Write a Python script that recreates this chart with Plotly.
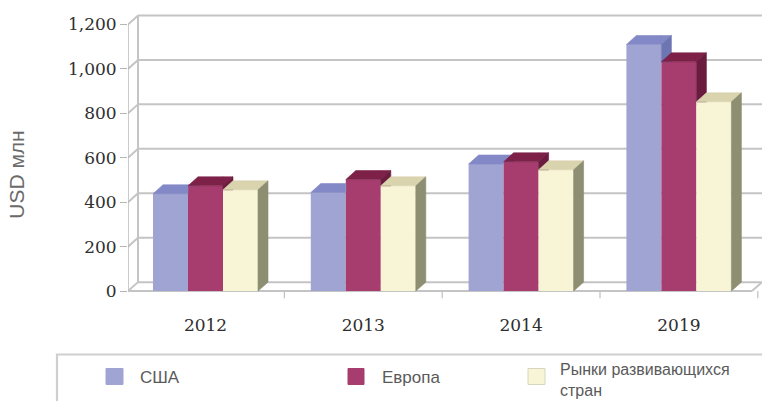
import plotly.graph_objects as go

# ---- data -------------------------------------------------------------
years = ["2012", "2013", "2014", "2019"]
series_names = ["США", "Европа", "Рынки развивающихся стран"]
usa = [438, 444, 572, 1110]
europe = [474, 502, 582, 1032]
emerging = [456, 474, 546, 852]
y_ticks = [0, 200, 400, 600, 800, 1000, 1200]
y_tick_labels = ["{:,}".format(v) for v in y_ticks]

# ---- styling ----------------------------------------------------------
W, H = 762, 401
front_colors = ["#a0a4d2", "#a63d6e", "#f8f5d6"]
top_colors = ["#8389c6", "#7d2149", "#d9d4ae"]
side_colors = ["#6e75b3", "#6a1b3e", "#8d8e72"]
grid_color = "#c4c4c4"

PX_PER_X = 157.8           # pixels per category step
PX_PER_Y = 0.2225          # pixels per value unit
ML, MT = 128, 14           # left / top margin (front axis at the left edge)
GROUP0_PX = 205.5          # pixel centre of the first category
ZERO_PX = 291.5            # pixel row of value 0
Y_LOW = -40

x_lo = -(GROUP0_PX - ML) / PX_PER_X
x_hi = x_lo + (W - ML) / PX_PER_X
bottom_px = ZERO_PX - Y_LOW * PX_PER_Y
MB = H - bottom_px
y_hi = Y_LOW + (bottom_px - MT) / PX_PER_Y

BAR_W = 35 / PX_PER_X      # width of one bar in category units
DX = 10 / PX_PER_X         # depth offset, horizontal
DY = 9 / PX_PER_Y          # depth offset, vertical
x_left = x_lo              # front edge of the side wall


def clip(poly, a, b, c):
    """Keep the part of a convex polygon where a*x + b*y + c >= 0."""
    out = []
    n = len(poly)
    for i in range(n):
        p, q = poly[i], poly[(i + 1) % n]
        fp = a * p[0] + b * p[1] + c
        fq = a * q[0] + b * q[1] + c
        if fp >= 0:
            out.append(p)
        if (fp >= 0) != (fq >= 0):
            t = fp / (fp - fq)
            out.append((p[0] + t * (q[0] - p[0]), p[1] + t * (q[1] - p[1])))
    return out if len(out) >= 3 else []


def add_poly(xs, ys, poly):
    if not poly:
        return
    for px, py in poly:
        xs.append(px)
        ys.append(py)
    xs.append(poly[0][0]); ys.append(poly[0][1])
    xs.append(None); ys.append(None)


fig = go.Figure()

all_values = [usa, europe, emerging]
xs_cat = list(range(len(years)))

# front faces of the columns
for j, (name, vals) in enumerate(zip(series_names, all_values)):
    fig.add_trace(go.Bar(
        x=xs_cat, y=vals, name=name, width=BAR_W,
        offset=-1.5 * BAR_W + j * BAR_W,
        marker=dict(color=front_colors[j], line=dict(width=0)),
        showlegend=False, hoverinfo="name+y",
    ))

# top and side faces, clipped where the neighbouring column hides them
for j, vals in enumerate(all_values):
    tx, ty, sx, sy = [], [], [], []
    for g, v in enumerate(vals):
        x0 = g - 1.5 * BAR_W + j * BAR_W
        x1 = x0 + BAR_W
        top = [(x0, v), (x1, v), (x1 + DX, v + DY), (x0 + DX, v + DY)]
        side = [(x1, 0), (x1 + DX, DY), (x1 + DX, v + DY), (x1, v)]
        if j < len(all_values) - 1:
            vn = all_values[j + 1][g]
            add_poly(tx, ty, clip(top, -1, 0, x1))
            add_poly(tx, ty, clip(clip(top, 1, 0, -x1), 0, 1, -vn))
            add_poly(sx, sy, clip(side, 0, 1, -vn))
        else:
            add_poly(tx, ty, top)
            add_poly(sx, sy, side)
    for xs, ys, col in ((tx, ty, top_colors[j]), (sx, sy, side_colors[j])):
        fig.add_trace(go.Scatter(
            x=xs, y=ys, mode="lines", fill="toself", fillcolor=col,
            line=dict(width=0.6, color=col), hoverinfo="skip", showlegend=False,
        ))

# walls, floor and grid
shapes = []
line = dict(color=grid_color, width=2)
for v in y_ticks:
    shapes.append(dict(type="line", xref="x", yref="y", x0=x_left + DX, y0=v + DY,
                       x1=x_hi, y1=v + DY, line=line, layer="below"))
    shapes.append(dict(type="line", xref="x", yref="y", x0=x_left, y0=v,
                       x1=x_left + DX, y1=v + DY, line=line, layer="below"))
shapes.append(dict(type="line", xref="x", yref="y", x0=x_left + DX, y0=DY,
                   x1=x_left + DX, y1=y_ticks[-1] + DY, line=line, layer="below"))
shapes.append(dict(type="line", xref="x", yref="y", x0=x_left, y0=0,
                   x1=x_left, y1=y_ticks[-1], line=dict(color="#b5b5b5", width=1.4),
                   layer="below"))
shapes.append(dict(type="line", xref="x", yref="y", x0=x_left, y0=0,
                   x1=x_hi - DX, y1=0, line=line, layer="below"))
shapes.append(dict(type="line", xref="x", yref="y", x0=x_hi - DX, y0=0,
                   x1=x_hi, y1=DY, line=line, layer="below"))
for g in range(len(years)):
    xb = g + 0.5
    shapes.append(dict(type="line", xref="x", yref="y", x0=xb, y0=0,
                       x1=xb, y1=-32, line=dict(color="#c0c0c0", width=1.2),
                       layer="below"))


# ---- legend panel (pixel positions converted to paper coordinates) ----
def px2paper(px, py):
    return (px - ML) / (W - ML), (H - MB - py) / (H - MB - MT)


bx0, by0 = px2paper(57, 355)
bx1, by1 = px2paper(775, 410)
shapes.append(dict(type="rect", xref="paper", yref="paper", x0=bx0, y0=by0,
                   x1=bx1, y1=by1, line=dict(color="#cfcfcf", width=2.2),
                   fillcolor="rgba(0,0,0,0)"))

# (square box in pixels, text left edge, text centre row)
legend_items = [
    ((106, 369, 123, 385), 138, 378),
    ((348, 369, 364, 385), 380, 378),
    ((528, 369, 545, 385), 558, 380.5),
]
legend_texts = ["США", "Европа", "Рынки развивающихся<br>стран"]
annotations = []
for j, ((sx0, sy0, sx1, sy1), tx0, ty0) in enumerate(legend_items):
    a0, b0 = px2paper(sx0, sy1)
    a1, b1 = px2paper(sx1, sy0)
    shapes.append(dict(type="rect", xref="paper", yref="paper", x0=a0, y0=b0,
                       x1=a1, y1=b1, fillcolor=front_colors[j],
                       line=dict(color="#d6d6c0" if j == 2 else front_colors[j],
                                 width=1)))
    ax, ay = px2paper(tx0, ty0)
    annotations.append(dict(xref="paper", yref="paper", x=ax, y=ay,
                            xanchor="left", yanchor="middle", align="left",
                            text=legend_texts[j], showarrow=False,
                            font=dict(family="Liberation Sans",
                                      size=16 if j == 2 else 17,
                                      color="#5a5a5a")))

tx_, ty_ = px2paper(17, 175)
annotations.append(dict(xref="paper", yref="paper", x=tx_, y=ty_, text="USD млн",
                        textangle=-90, showarrow=False, xanchor="center",
                        yanchor="middle",
                        font=dict(family="Liberation Sans", size=21, color="#6a6a6a")))

tick_font = dict(family="DejaVu Serif", size=17, color="#2e2e2e")
fig.update_layout(
    width=W, height=H,
    margin=dict(l=ML, r=0, t=MT, b=MB, pad=0),
    paper_bgcolor="white", plot_bgcolor="white",
    barmode="overlay",
    showlegend=False,
    shapes=shapes,
    annotations=annotations,
    xaxis=dict(range=[x_lo, x_hi], tickmode="array", tickvals=xs_cat, ticktext=years,
               showgrid=False, zeroline=False, showline=False, ticks="",
               tickfont=tick_font, ticklabelstandoff=13, fixedrange=True),
    yaxis=dict(range=[Y_LOW, y_hi], tickmode="array", tickvals=y_ticks,
               ticktext=y_tick_labels, showgrid=False, zeroline=False,
               showline=False, ticks="outside", ticklen=7, tickcolor="#b5b5b5",
               tickwidth=1.2, tickfont=tick_font, fixedrange=True),
)

fig.write_html("out.html")
